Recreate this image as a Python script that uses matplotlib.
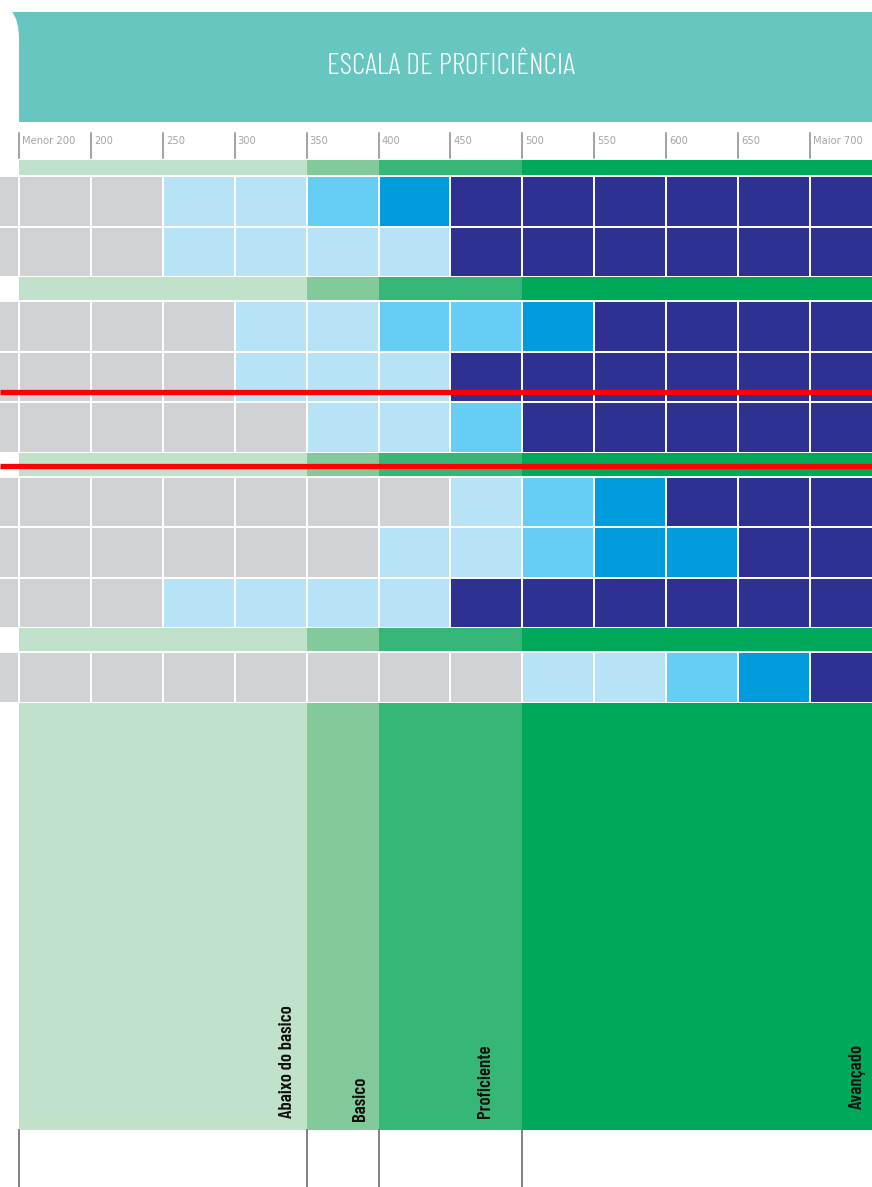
import matplotlib.pyplot as plt
import numpy as np
from matplotlib.path import Path
from matplotlib.patches import PathPatch

# scale columns and proficiency levels
col_labels = ['Menor 200', '200', '250', '300', '350', '400', '450', '500',
              '550', '600', '650', 'Maior 700']
band_level = [0, 0, 0, 0, 1, 2, 2, 3, 3, 3, 3, 3]
level_names = ['Abaixo do basico', 'Basico', 'Proficiente', 'Avançado']

# cell shade per row: 0 gray, 1 light blue, 2 mid blue, 3 blue, 4 navy
rows = [
    [0, 0, 1, 1, 2, 3, 4, 4, 4, 4, 4, 4],
    [0, 0, 1, 1, 1, 1, 4, 4, 4, 4, 4, 4],
    [0, 0, 0, 1, 1, 2, 2, 3, 4, 4, 4, 4],
    [0, 0, 0, 1, 1, 1, 4, 4, 4, 4, 4, 4],
    [0, 0, 0, 0, 1, 1, 2, 4, 4, 4, 4, 4],
    [0, 0, 0, 0, 0, 0, 1, 2, 3, 4, 4, 4],
    [0, 0, 0, 0, 0, 1, 1, 2, 3, 3, 4, 4],
    [0, 0, 1, 1, 1, 1, 4, 4, 4, 4, 4, 4],
    [0, 0, 0, 0, 0, 0, 0, 1, 1, 2, 3, 4],
]
group_sizes = [2, 3, 3, 1]

shade_colors = ['#D1D2D4', '#B8E3F7', '#66CDF5', '#009CDC', '#2E3192']
level_colors = ['#C0E2CA', '#83CA9A', '#37B777', '#00A859']
teal = '#67C6C0'
narrow = ['Barlow Condensed', 'DejaVu Sans']

# layout (pixels)
W, H = 872, 1187
x0, cw = 19, 71.9
row_h = 50.5
band_h = [16, 24, 24, 24]
bottom_end = 1130

fig = plt.figure(figsize=(W / 100, H / 100), dpi=100)
ax = fig.add_axes([0, 0, 1, 1])
ax.set_xlim(0, W)
ax.set_ylim(H, 0)
ax.axis('off')

lefts = x0 + cw * np.arange(len(col_labels))


def level_segments():
    segs = []
    for lv in range(len(level_names)):
        idx = [i for i, b in enumerate(band_level) if b == lv]
        start = lefts[idx[0]]
        end = lefts[idx[-1]] + cw if idx[-1] < len(band_level) - 1 else W + 10
        segs.append((lv, start, end))
    return segs


def draw_band(top, h):
    for lv, s, e in level_segments():
        ax.bar(s, h, width=e - s, bottom=top, align='edge',
               color=level_colors[lv], linewidth=0)


# header
verts = [(12, 12), (W, 12), (W, 122), (19, 122), (19, 40), (19, 20), (12, 12)]
codes = [Path.MOVETO, Path.LINETO, Path.LINETO, Path.LINETO, Path.LINETO,
         Path.CURVE3, Path.CURVE3]
ax.add_patch(PathPatch(Path(verts, codes), facecolor=teal, edgecolor='none'))
ax.text(451, 67, 'ESCALA DE PROFICIÊNCIA', color='white', fontsize=21.5,
        family=narrow, fontstretch='condensed', fontweight=300,
        ha='center', va='center')

# scale ticks
for x, lab in zip(lefts, col_labels):
    ax.plot([x, x], [133, 158], color='#8A8A8A', lw=1.1)
    ax.text(x + 3, 141, lab, fontsize=7.2, color='#A5A5A5', va='center', ha='left')

# bands and rows
y = 160
r = 0
for g, n in enumerate(group_sizes):
    draw_band(y, band_h[g])
    y += band_h[g]
    for _ in range(n):
        cols = [shade_colors[v] for v in rows[r]]
        ax.bar(lefts, row_h, width=cw, bottom=y, align='edge', color=cols,
               edgecolor='white', linewidth=1.4)
        ax.bar(x0 - cw, row_h, width=cw, bottom=y, align='edge',
               color=shade_colors[0], edgecolor='white', linewidth=1.4)
        y += row_h
        r += 1

# large level area
draw_band(y, bottom_end - y)
label_x = [287, 360, 485, 857]
label_y = [1118, 1121, 1118, 1109]
for name, lx, ly in zip(level_names, label_x, label_y):
    ax.text(lx, ly, name, rotation=90, fontsize=13.5, family=narrow,
            fontstretch='condensed', fontweight=600,
            color='#111111', ha='center', va='bottom')

for lv, s, e in level_segments():
    ax.plot([s, s], [bottom_end, H], color='#777777', lw=1.3)

# red highlight lines
for ry in [391.5, 466]:
    ax.plot([0, W], [ry, ry], color='#FF0000', lw=3.8, solid_capstyle='butt')

fig.savefig('out.png', dpi=100)
